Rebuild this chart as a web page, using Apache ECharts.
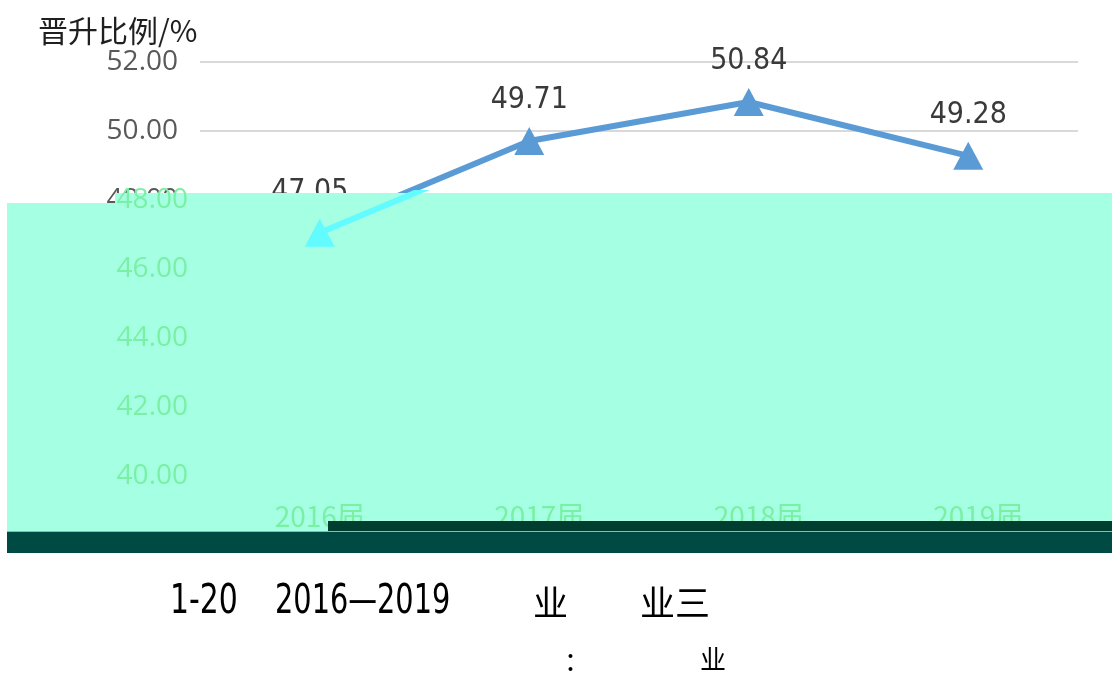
<!DOCTYPE html>
<html>
<head>
<meta charset="utf-8">
<script src="https://cdn.jsdelivr.net/npm/echarts@6/dist/echarts.min.js"></script>
<style>
  html, body { margin: 0; padding: 0; background: #fff; }
  #chart { width: 1116px; height: 675px; }
</style>
</head>
<body>
<div id="chart"></div>
<script>
// 数据
const years = ["2016届", "2017届", "2018届", "2019届"];
const ratios = [47.05, 49.71, 50.84, 49.28];
const yTicks = [40, 42, 44, 46, 48, 50, 52];

const chart = echarts.init(document.getElementById("chart"));

const gray = "#595959";
const green = "#79f0a3";
const numFont = "'Open Sans', 'DejaVu Sans', sans-serif";
const cjkFont = "'Noto Sans CJK SC', sans-serif";
const capFont = "40px 'Liberation Sans Narrow', 'DejaVu Sans Condensed', sans-serif";

const option = {
  animation: false,
  title: {
    text: "晋升比例/%",
    left: 33,
    top: 11,
    textStyle: { fontFamily: cjkFont, fontSize: 30, fontWeight: "normal", color: "#1f1f1f" },
  },
  grid: [
    { left: 200, right: 38, top: 62, bottom: 199 },
    // 覆盖区域里的内容（向右偏移）
    { left: 210, right: 28, top: 193, bottom: 199 },
  ],
  xAxis: [
    {
      gridIndex: 0,
      type: "category",
      data: years,
      axisLine: { show: false },
      axisTick: { show: false },
      axisLabel: { show: false },
    },
    {
      gridIndex: 1,
      type: "category",
      data: years,
      z: 3,
      axisLine: { show: false },
      axisTick: { show: false },
      axisLabel: { margin: 26, fontFamily: cjkFont, fontSize: 28, color: green },
    },
  ],
  yAxis: [
    {
      gridIndex: 0,
      type: "value",
      min: yTicks[0],
      max: yTicks[yTicks.length - 1],
      interval: 2,
      axisLine: { show: false },
      axisTick: { show: false },
      axisLabel: {
        margin: 22,
        fontFamily: numFont,
        fontSize: 28,
        color: gray,
        formatter: (v) => v.toFixed(2),
      },
      splitLine: { lineStyle: { color: "#d9d9d9", width: 2 } },
    },
    {
      gridIndex: 1,
      type: "value",
      min: yTicks[0],
      max: 48.2,
      interval: 2,
      z: 3,
      axisLine: { show: false },
      axisTick: { show: false },
      splitLine: { show: false },
      axisLabel: {
        margin: 22,
        showMaxLabel: false,
        fontFamily: numFont,
        fontSize: 28,
        color: green,
        formatter: (v) => v.toFixed(2),
      },
    },
  ],
  series: [
    {
      type: "line",
      xAxisIndex: 0,
      yAxisIndex: 0,
      z: 1,
      data: ratios,
      symbol: "triangle",
      symbolSize: [30, 28],
      itemStyle: { color: "#5b9bd5" },
      lineStyle: { color: "#5b9bd5", width: 6 },
      label: {
        show: true,
        position: "top",
        distance: 12,
        fontFamily: "'DejaVu Sans Condensed', 'DejaVu Sans', sans-serif",
        fontSize: 30,
        color: "#3a3a3a",
        formatter: (p) => p.value.toFixed(2),
      },
    },
    {
      type: "line",
      xAxisIndex: 1,
      yAxisIndex: 1,
      z: 3,
      clip: true,
      data: ratios,
      symbol: "triangle",
      symbolSize: [30, 28],
      itemStyle: { color: "#62fbff" },
      lineStyle: { color: "#62fbff", width: 6 },
      label: { show: false },
    },
  ],
  graphic: [
    { type: "rect", z: 2, shape: { x: 7, y: 203, width: 1105, height: 328 }, style: { fill: "#a5ffe2" } },
    { type: "rect", z: 2, shape: { x: 115, y: 193, width: 997, height: 11 }, style: { fill: "#a5ffe2" } },
    { type: "rect", z: 10, shape: { x: 328, y: 521, width: 784, height: 11 }, style: { fill: "#003f30" } },
    { type: "rect", z: 10, shape: { x: 7, y: 531, width: 1105, height: 22 }, style: { fill: "#004a44" } },
    { type: "rect", z: 11, shape: { x: 7, y: 531, width: 1105, height: 1 }, style: { fill: "#5fd0b8" } },
    // 图题
    {
      type: "text", z: 10, x: 170, y: 603, scaleX: 0.83,
      style: { text: "1-20", font: capFont, fill: "#000", verticalAlign: "middle" },
    },
    {
      type: "text", z: 10, x: 275, y: 603, scaleX: 0.8,
      style: { text: "2016—2019", font: capFont, fill: "#000", verticalAlign: "middle" },
    },
    {
      type: "text", z: 10, x: 533, y: 603,
      style: { text: "业", font: "35px 'Noto Sans CJK SC', sans-serif", fill: "#000", verticalAlign: "middle" },
    },
    {
      type: "text", z: 10, x: 640, y: 603,
      style: { text: "业三", font: "35px 'Noto Sans CJK SC', sans-serif", fill: "#000", verticalAlign: "middle" },
    },
    {
      type: "text", z: 10, x: 564, y: 661,
      style: { text: "：", font: "26px 'Noto Sans CJK SC', sans-serif", fill: "#000", verticalAlign: "middle" },
    },
    {
      type: "text", z: 10, x: 700, y: 659,
      style: { text: "业", font: "26px 'Noto Sans CJK SC', sans-serif", fill: "#000", verticalAlign: "middle" },
    },
  ],
};

chart.setOption(option);
window.addEventListener("resize", () => chart.resize());
</script>
</body>
</html>
